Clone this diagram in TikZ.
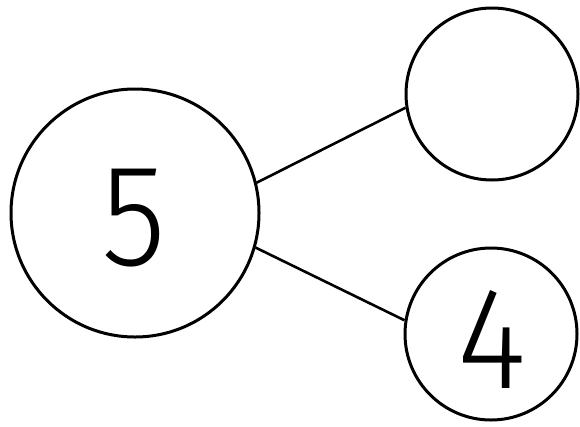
\documentclass[tikz,border=0pt]{standalone}
\usepackage{fontspec}
\newfontfamily\digitfont{Fira Sans}[UprightFont=* Light]
\begin{document}
\begin{tikzpicture}[x=1pt,y=-1pt,
  ring/.style={circle,draw=black,line width=3pt,inner sep=0pt},
  link/.style={draw=black,line width=2.6pt},
  digit/.style={font=\digitfont\fontsize{145}{145}\selectfont,inner sep=0pt,anchor=base,xscale=0.92}]
\useasboundingbox (0,0) rectangle (580,426);
\node[ring,minimum size=248pt] (five) at (135,213) {};
\node[ring,minimum size=172pt] (top) at (492,94) {};
\node[ring,minimum size=172pt] (four) at (491,334) {};
\node[digit] (n5) at (134,265) {5};
\node[digit] (n4) at (492,388) {4};
\draw[link] (five.14) -- (top.189);
\draw[link] (five.-16) -- (four.171);
\end{tikzpicture}
\end{document}
